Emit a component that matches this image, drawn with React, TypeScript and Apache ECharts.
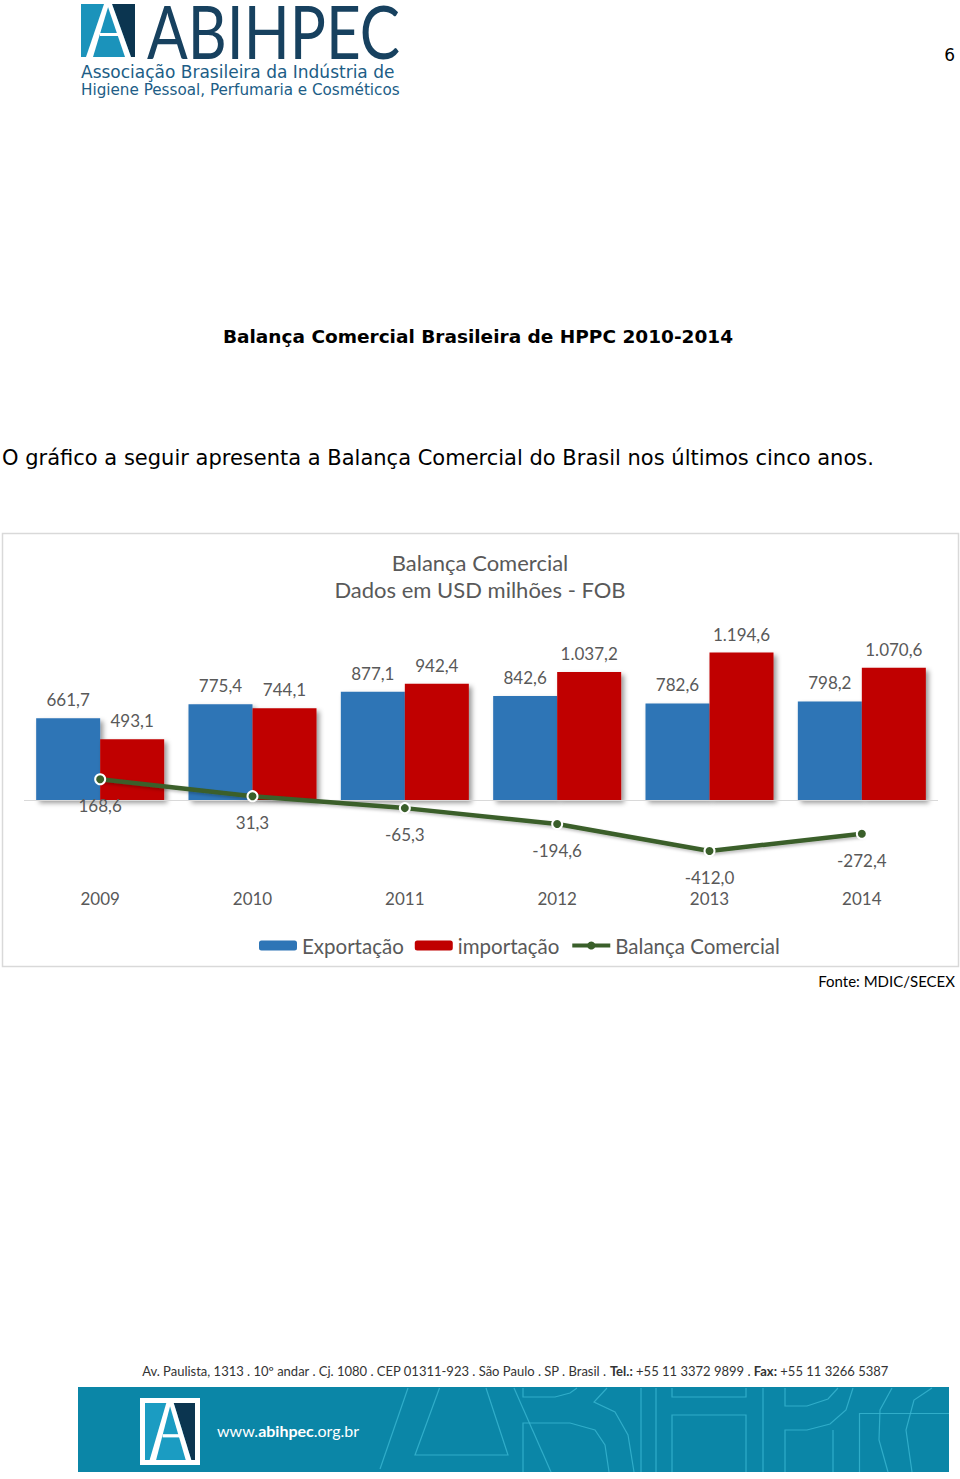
import React, { useEffect, useRef } from "react";
import * as echarts from "echarts";

const years = ["2009", "2010", "2011", "2012", "2013", "2014"];
const exportacao = [661.7, 775.4, 877.1, 842.6, 782.6, 798.2];
const importacao = [493.1, 744.1, 942.4, 1037.2, 1194.6, 1070.6];
const balanca = [168.6, 31.3, -65.3, -194.6, -412.0, -272.4];
const seriesNames = ["Exportação", "importação", "Balança Comercial"];

const FONT = "Lato, 'Open Sans', sans-serif";
const WIDE = "'DejaVu Sans', sans-serif";
const GRAY = "#595959";

function fmt(v: number): string {
  const s = Math.abs(v).toFixed(1);
  const [i, d] = s.split(".");
  const ii = i.replace(/\B(?=(\d{3})+(?!\d))/g, ".");
  return (v < 0 ? "-" : "") + ii + "," + d;
}

function logo(x: number, y: number, sx: number, sy: number, teal: string, dark: string): any {
  return {
    type: "group",
    x,
    y,
    scaleX: sx,
    scaleY: sy,
    children: [
      { type: "rect", shape: { x: 0, y: 0, width: 54, height: 53 }, style: { fill: teal } },
      { type: "polygon", shape: { points: [[31, 0], [54, 0], [54, 53], [50, 53]] }, style: { fill: dark } },
      { type: "polygon", shape: { points: [[26, 0], [31, 0], [50, 53], [44, 53]] }, style: { fill: "#ffffff" } },
      { type: "polygon", shape: { points: [[23, 0], [28, 0], [12, 53], [5, 53]] }, style: { fill: "#ffffff" } },
      { type: "rect", shape: { x: 19, y: 29, width: 22, height: 3 }, style: { fill: "#ffffff" } },
    ],
  };
}

const deco = (pts: number[][]) => ({
  type: "polyline",
  shape: { points: pts },
  style: { stroke: "#3ab6d2", lineWidth: 1.2, fill: null, opacity: 0.8 },
  silent: true,
});

export default function App() {
  const ref = useRef<HTMLDivElement>(null);
  useEffect(() => {
    document.body.style.margin = "0";
    if (!ref.current) return;
    const chart = echarts.init(ref.current, undefined, { renderer: "svg" });
    const option: any = {
      animation: false,
      backgroundColor: "#ffffff",
      textStyle: { fontFamily: FONT },
      title: {
        text: "Balança Comercial\nDados em USD milhões - FOB",
        left: "center",
        top: 544,
        textStyle: { fontFamily: FONT, fontSize: 22, lineHeight: 27, color: GRAY, fontWeight: "normal" },
      },
      legend: {
        left: 254,
        top: 930,
        itemWidth: 38,
        itemHeight: 10,
        itemGap: 11,
        data: [
          { name: seriesNames[0] },
          { name: seriesNames[1] },
          { name: seriesNames[2], lineStyle: { width: 4 }, itemStyle: { borderWidth: 0 } },
        ],
        textStyle: { fontFamily: FONT, fontSize: 20.5, color: GRAY },
      },
      grid: { left: 24, right: 22, top: 639.5, height: 247, containLabel: false },
      xAxis: {
        type: "category",
        data: years,
        axisLine: { show: false },
        axisTick: { show: false },
        axisLabel: { color: GRAY, fontSize: 17, fontFamily: FONT, margin: 3 },
      },
      yAxis: {
        type: "value",
        min: -700,
        max: 1300,
        show: false,
        splitLine: { show: false },
      },
      series: [
        {
          name: seriesNames[0],
          type: "bar",
          data: exportacao,
          barWidth: 64,
          barGap: "0%",
          itemStyle: {
            color: "#2E75B6",
            shadowColor: "rgba(0,0,0,0.4)",
            shadowBlur: 5,
            shadowOffsetX: 3,
            shadowOffsetY: 3,
          },
          label: {
            show: true,
            position: "top",
            distance: 10,
            color: GRAY,
            fontSize: 17,
            fontFamily: FONT,
            formatter: (p: any) => fmt(p.value),
          },
          markLine: {
            silent: true,
            symbol: "none",
            label: { show: false },
            lineStyle: { color: "#d9d9d9", width: 1, type: "solid" },
            data: [{ yAxis: 0 }],
          },
          z: 2,
        },
        {
          name: seriesNames[1],
          type: "bar",
          data: importacao,
          barWidth: 64,
          barGap: "0%",
          itemStyle: {
            color: "#C00000",
            shadowColor: "rgba(0,0,0,0.4)",
            shadowBlur: 5,
            shadowOffsetX: 3,
            shadowOffsetY: 3,
          },
          label: {
            show: true,
            position: "top",
            distance: 10,
            color: GRAY,
            fontSize: 17,
            fontFamily: FONT,
            formatter: (p: any) => fmt(p.value),
          },
          z: 2,
        },
        {
          name: seriesNames[2],
          type: "line",
          data: balanca,
          symbol: "circle",
          symbolSize: 10,
          lineStyle: {
            color: "#3A5F2A",
            width: 4.5,
            shadowColor: "rgba(0,0,0,0.25)",
            shadowBlur: 3,
            shadowOffsetX: 2,
            shadowOffsetY: 2,
          },
          itemStyle: { color: "#3A5F2A", borderColor: "#ffffff", borderWidth: 2 },
          label: {
            show: true,
            position: "bottom",
            distance: 12,
            color: GRAY,
            fontSize: 17,
            fontFamily: FONT,
            formatter: (p: any) => fmt(p.value),
          },
          z: 5,
        },
      ],
      graphic: [
        {
          type: "rect",
          z: -10,
          shape: { x: 2.5, y: 533.5, width: 956, height: 433 },
          style: { fill: "#ffffff", stroke: "#d9d9d9", lineWidth: 1.5 },
          silent: true,
        },
        logo(81, 4, 1, 1, "#1b93bb", "#0b3550"),
        {
          type: "text",
          x: 147,
          y: -5.5,
          scaleX: 0.826,
          style: { text: "ABIHPEC", fontSize: 73, fontFamily: FONT, fill: "#17415f", align: "left", verticalAlign: "top" },
        },
        {
          type: "text",
          x: 81,
          y: 72,
          style: { text: "Associação Brasileira da Indústria de", fontSize: 17, fontFamily: WIDE, fill: "#205d86", verticalAlign: "middle" },
        },
        {
          type: "text",
          x: 81,
          y: 90,
          style: { text: "Higiene Pessoal, Perfumaria e Cosméticos", fontSize: 15.2, fontFamily: WIDE, fill: "#205d86", verticalAlign: "middle" },
        },
        {
          type: "text",
          x: 955,
          y: 55,
          style: { text: "6", fontSize: 17, fontFamily: WIDE, fill: "#000", align: "right", verticalAlign: "middle" },
        },
        {
          type: "text",
          x: 478,
          y: 336,
          style: {
            text: "Balança Comercial Brasileira de HPPC 2010-2014",
            fontSize: 18.5,
            fontWeight: "bold",
            fontFamily: WIDE,
            fill: "#000",
            align: "center",
            verticalAlign: "middle",
          },
        },
        {
          type: "text",
          x: 2,
          y: 458,
          style: {
            text: "O gráfico a seguir apresenta a Balança Comercial do Brasil nos últimos cinco anos.",
            fontSize: 21,
            fontFamily: WIDE,
            fill: "#000",
            align: "left",
            verticalAlign: "middle",
          },
        },
        {
          type: "text",
          x: 955,
          y: 981,
          style: { text: "Fonte: MDIC/SECEX", fontSize: 15, fontFamily: FONT, fill: "#000", align: "right", verticalAlign: "middle" },
        },
        {
          type: "text",
          x: 515,
          y: 1371,
          style: {
            text: "Av. Paulista, 1313 . 10º andar . Cj. 1080 . CEP 01311-923 . São Paulo . SP . Brasil . {b|Tel.:} +55 11 3372 9899 . {b|Fax:} +55 11 3266 5387",
            fontSize: 13,
            fontFamily: FONT,
            fill: "#333333",
            align: "center",
            verticalAlign: "middle",
            rich: { b: { fontWeight: "bold", fontSize: 13, fontFamily: FONT, fill: "#333333" } },
          },
        },
        {
          type: "rect",
          shape: { x: 78, y: 1387, width: 871, height: 85 },
          style: { fill: "#0b86a7" },
          silent: true,
        },
        deco([[380, 1469], [408, 1388]]),
        deco([[439.5, 1388], [415, 1455], [508, 1455], [486, 1388]]),
        deco([[514, 1388], [551, 1472]]),
        deco([[523, 1388], [523, 1397], [555, 1397], [570, 1393], [577, 1388]]),
        deco([[523, 1472], [523, 1423], [570, 1423], [595, 1430], [605, 1445], [609, 1472]]),
        deco([[607, 1388], [594, 1402], [615, 1412], [628, 1435], [634, 1472]]),
        deco([[641, 1388], [641, 1472]]),
        deco([[656, 1388], [656, 1472]]),
        deco([[672, 1388], [672, 1397], [746, 1397], [746, 1388]]),
        deco([[672, 1472], [672, 1415], [746, 1415], [746, 1472]]),
        deco([[763, 1388], [763, 1472]]),
        deco([[785, 1388], [785, 1406], [807, 1406], [828, 1399], [838, 1388]]),
        deco([[785, 1472], [785, 1430], [807, 1430], [830, 1424], [846, 1410], [853, 1388]]),
        deco([[833, 1430], [833, 1472]]),
        deco([[859.5, 1472], [859.5, 1413.5], [949, 1413.5]]),
        deco([[892, 1388], [880, 1410], [879, 1440], [888, 1472]]),
        deco([[932, 1388], [914, 1400], [906, 1430], [912, 1472]]),
        {
          type: "rect",
          shape: { x: 140, y: 1398, width: 60, height: 67 },
          style: { fill: "#ffffff" },
        },
        logo(145, 1403, 50 / 54, 57 / 53, "#1b9cc2", "#0b3550"),
        {
          type: "text",
          x: 217,
          y: 1430,
          style: {
            text: "www.{b|abihpec}.org.br",
            fontSize: 16,
            fontFamily: FONT,
            fill: "#ffffff",
            verticalAlign: "middle",
            rich: { b: { fontWeight: "bold", fontSize: 16, fontFamily: FONT, fill: "#ffffff" } },
          },
        },
      ],
    };
    chart.setOption(option);
    return () => chart.dispose();
  }, []);
  return <div ref={ref} style={{ width: 960, height: 1479 }} />;
}
